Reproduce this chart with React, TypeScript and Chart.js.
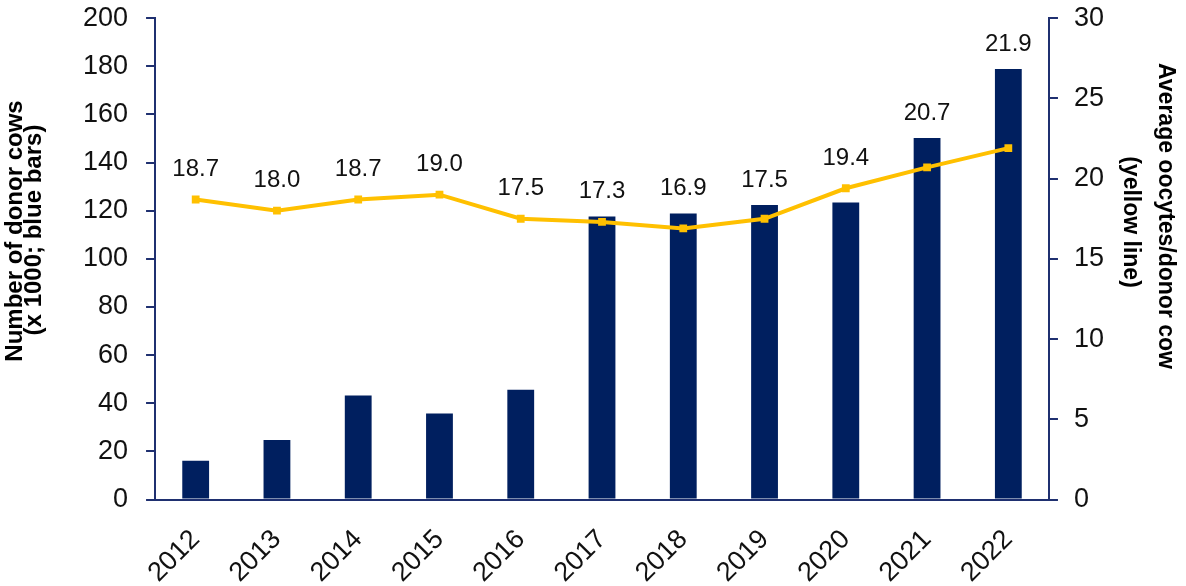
import React, { useEffect, useRef } from "react";
import { Chart, registerables } from "chart.js";

Chart.register(...registerables);

const years = ["2012", "2013", "2014", "2015", "2016", "2017", "2018", "2019", "2020", "2021", "2022"];
const donorCows = [16.1, 24.8, 43.2, 35.8, 45.6, 117.6, 118.8, 122.4, 123.4, 150.2, 178.9];
const oocytesPerCow = [18.7, 18.0, 18.7, 19.0, 17.5, 17.3, 16.9, 17.5, 19.4, 20.7, 21.9];
const leftTitle = ["Number of donor cows", "(x 1000; blue bars)"];
const rightTitle = ["Average oocytes/donor cow", "(yellow line)"];

const NAVY = "#001F5F";
const AXIS = "#1F3070";
const GOLD = "#FFC000";
const FONT = "'Liberation Sans', Arial, sans-serif";

// value labels sit above the line point, or above the bar when the bar is taller
const lineLabels = {
  id: "lineLabels",
  afterDatasetsDraw(chart: any) {
    const bars = chart.getDatasetMeta(0).data;
    const pts = chart.getDatasetMeta(1).data;
    const ctx = chart.ctx;
    ctx.save();
    ctx.font = `24px ${FONT}`;
    ctx.fillStyle = "#111";
    ctx.textAlign = "center";
    ctx.textBaseline = "middle";
    pts.forEach((pt: any, i: number) => {
      const y = Math.min(pt.y - 30, bars[i].y - 25);
      ctx.fillText(oocytesPerCow[i].toFixed(1), pt.x, y);
    });
    ctx.restore();
  },
};

const axisTitles = {
  id: "axisTitles",
  afterDraw(chart: any) {
    const ctx = chart.ctx;
    ctx.save();
    ctx.fillStyle = "#000";
    ctx.textAlign = "center";
    ctx.textBaseline = "alphabetic";
    ctx.font = `bold 24px ${FONT}`;
    const lpos = [
      [22, 231],
      [41, 230],
    ];
    leftTitle.forEach((t, i) => {
      ctx.save();
      ctx.translate(lpos[i][0], lpos[i][1]);
      ctx.rotate(-Math.PI / 2);
      ctx.fillText(t, 0, 0);
      ctx.restore();
    });
    ctx.font = `bold 23px ${FONT}`;
    const rpos = [
      [1159, 216],
      [1124, 222],
    ];
    rightTitle.forEach((t, i) => {
      ctx.save();
      ctx.translate(rpos[i][0], rpos[i][1]);
      ctx.rotate(Math.PI / 2);
      ctx.fillText(t, 0, 0);
      ctx.restore();
    });
    ctx.restore();
  },
};

export default function App() {
  const ref = useRef<HTMLCanvasElement>(null);
  useEffect(() => {
    if (!ref.current) return;
    const chart = new Chart(ref.current, {
      type: "bar",
      data: {
        labels: years,
        datasets: [
          {
            type: "bar",
            label: "Number of donor cows",
            data: donorCows,
            backgroundColor: NAVY,
            yAxisID: "y",
            barPercentage: 0.33,
            categoryPercentage: 1,
            order: 2,
          },
          {
            type: "line",
            label: "Average oocytes/donor cow",
            data: oocytesPerCow,
            borderColor: GOLD,
            backgroundColor: GOLD,
            borderWidth: 4,
            pointStyle: "rect",
            pointRadius: 5.5,
            pointBorderWidth: 0,
            yAxisID: "y1",
            order: 1,
          } as any,
        ],
      },
      options: {
        animation: false,
        responsive: false,
        maintainAspectRatio: false,
        layout: { padding: { top: 7, left: 65, right: 66, bottom: -19 } },
        plugins: { legend: { display: false }, tooltip: { enabled: false } },
        scales: {
          x: {
            offset: true,
            grid: { display: false },
            border: { display: true, color: AXIS, width: 2 },
            ticks: {
              color: "#111",
              font: { family: FONT, size: 27 },
              maxRotation: 45,
              minRotation: 45,
              padding: 16,
            },
          },
          y: {
            position: "left",
            min: 0,
            max: 200,
            grid: { drawOnChartArea: false, drawTicks: true, tickLength: 9, color: AXIS, lineWidth: 2 },
            border: { display: true, color: AXIS, width: 2 },
            ticks: {
              stepSize: 20,
              color: "#111",
              font: { family: FONT, size: 27, lineHeight: 0.01 },
              padding: 18,
            },
          },
          y1: {
            position: "right",
            min: 0,
            max: 30,
            grid: { drawOnChartArea: false, drawTicks: true, tickLength: 9, color: AXIS, lineWidth: 2 },
            border: { display: true, color: AXIS, width: 2 },
            ticks: {
              stepSize: 5,
              color: "#111",
              font: { family: FONT, size: 27, lineHeight: 0.01 },
              padding: 16,
            },
          },
        },
      },
      plugins: [lineLabels, axisTitles],
    });
    return () => chart.destroy();
  }, []);
  return (
    <div style={{ position: "fixed", left: 0, top: 0, width: 1186, height: 586, background: "#fff" }}>
      <canvas ref={ref} width={1186} height={586} style={{ width: 1186, height: 586 }} />
    </div>
  );
}
